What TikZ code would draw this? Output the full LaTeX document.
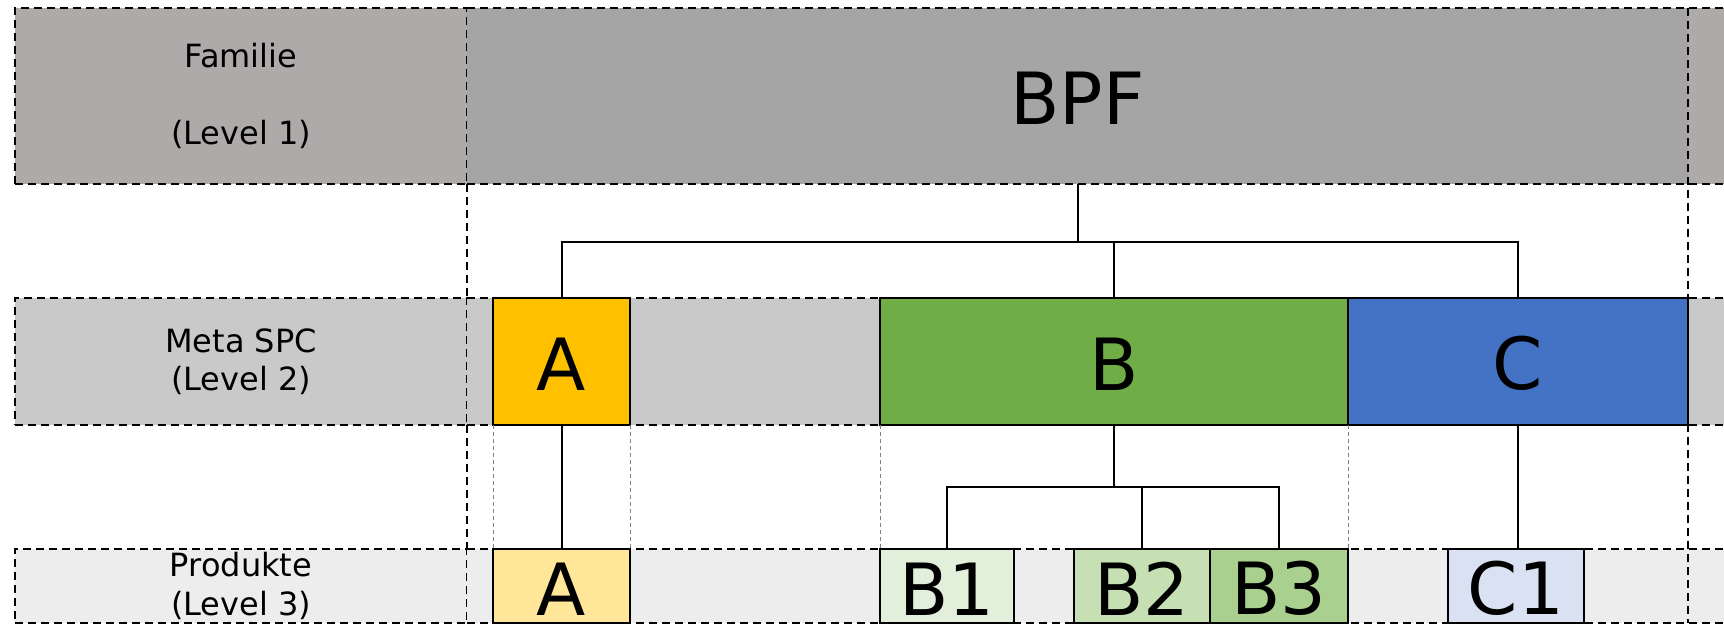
\documentclass[tikz,border=0pt]{standalone}
\usepackage{fontspec}
\setmainfont{DejaVu Sans}
\usepackage{tikz}
\usetikzlibrary{calc}

\begin{document}
\begin{tikzpicture}[x=0.5pt, y=-0.5pt]
            \tikzset{
                row line/.style={
                    draw=black,
                    line width=0.75pt,
                    dash pattern=on 4pt off 2.5pt
                },
                guide line/.style={
                    draw=black!50,
                    line width=0.45pt,
                    dash pattern=on 2pt off 1.5pt
                },
                tree line/.style={
                    draw=black,
                    line width=1pt
                },
                level label/.style={
                    row line,
                    rectangle, inner sep=0pt, outer sep=0pt,
                    minimum width=226pt,
                    align=center,
                    font=\fontsize{16}{19.2}\selectfont
                },
                cell/.style={
                    draw=black, line width=0.7pt,
                    rectangle, inner sep=0pt, outer sep=0pt,
                    text height=29pt,
                    font=\fontsize{36}{43}\selectfont
                }
            }

            % Colours of the three levels
            \definecolor{famGray}{HTML}{AEAAAA}
            \definecolor{bpfGray}{HTML}{A5A5A5}
            \definecolor{metaGray}{HTML}{C9C9C9}
            \definecolor{prodGray}{HTML}{EDEDED}
            \definecolor{colA}{HTML}{FFC000}
            \definecolor{colAlight}{HTML}{FFE699}
            \definecolor{colB}{HTML}{70AD47}
            \definecolor{colBone}{HTML}{E2EFDA}
            \definecolor{colBtwo}{HTML}{C6E0B4}
            \definecolor{colBthree}{HTML}{A9D08E}
            \definecolor{colC}{HTML}{4472C4}
            \definecolor{colClight}{HTML}{D9E1F2}

            % Crop to the picture size
            \clip (0,0) rectangle (1724,625);

            % --- ROW 1: Familie ---
            \node[level label, fill=famGray, minimum height=88pt] (famLabel) at (241,96) {Familie\\[19pt](Level 1)};
            \node[cell, draw=none, fill=bpfGray, minimum width=610.5pt, minimum height=88pt] (bpf) at (1077.5,96) {BPF};
            \fill[famGray] (1688,8) rectangle (1760,184);

            % --- ROW 2: Meta SPC ---
            \node[level label, fill=metaGray, minimum height=63.5pt] (metaLabel) at (241,361.5) {Meta SPC\\(Level 2)};
            \fill[metaGray] (467,298) rectangle (1760,425);

            % --- ROW 3: Produkte ---
            \node[level label, fill=prodGray, minimum height=37pt] (prodLabel) at (241,586) {Produkte\\(Level 3)};
            \fill[prodGray] (467,549) rectangle (1760,623);

            % dashed row borders
            \foreach \y in {8,184,298,425,549,623} {
                \draw[row line] (467,\y) -- (1760,\y);
            }

            % column borders, also through the white gaps
            \draw[row line] (467,184) -- (467,298);
            \draw[row line] (467,425) -- (467,549);
            \draw[row line] (1688,8) -- (1688,623);

            % Meta SPC boxes
            \node[cell, fill=colA, minimum width=68.5pt, minimum height=63.5pt] (metaA) at (561.5,361.5) {A};
            \node[cell, fill=colB, minimum width=234pt, minimum height=63.5pt] (metaB) at (1114,361.5) {B};
            \node[cell, fill=colC, minimum width=170pt, minimum height=63.5pt] (metaC) at (1518,361.5) {C};

            % Produkt boxes
            \node[cell, fill=colAlight, minimum width=68.5pt, minimum height=37pt] (prodA) at (561.5,586) {A};
            \node[cell, fill=colBone, minimum width=67pt, minimum height=37pt] (prodB1) at (947,586) {B1};
            \node[cell, fill=colBtwo, minimum width=68pt, minimum height=37pt] (prodB2) at (1142,586) {B2};
            \node[cell, fill=colBthree, minimum width=69pt, minimum height=37pt] (prodB3) at (1279,586) {B3};
            \node[cell, fill=colClight, minimum width=68pt, minimum height=37pt] (prodC1) at (1516,586) {C1};

            % --- TREE: Familie -> Meta SPC ---
            \coordinate (fork1) at (0,242);
            \draw[tree line] (bpf.south) -- (bpf.south |- fork1);
            \draw[tree line] (metaA.north) |- (metaC.north |- fork1) -- (metaC.north);
            \draw[tree line] (metaB.north) -- (metaB.north |- fork1);

            % --- TREE: Meta SPC -> Produkte ---
            \coordinate (fork2) at (0,487);
            \draw[tree line] (metaA.south) -- (prodA.north);
            \draw[tree line] (metaB.south) -- (metaB.south |- fork2);
            \draw[tree line] (prodB1.north) |- (prodB3.north |- fork2) -- (prodB3.north);
            \draw[tree line] (prodB2.north) -- (prodB2.north |- fork2);
            \draw[tree line] (metaC.south) -- (metaC.south |- prodC1.north);

            % thin guides below the Meta SPC boxes
            \draw[guide line] (metaA.south west) -- (prodA.north west);
            \draw[guide line] (metaA.south east) -- (prodA.north east);
            \draw[guide line] (metaB.south west) -- (prodB1.north west);
            \draw[guide line] (metaB.south east) -- (prodB3.north east);
\end{tikzpicture}
\end{document}
